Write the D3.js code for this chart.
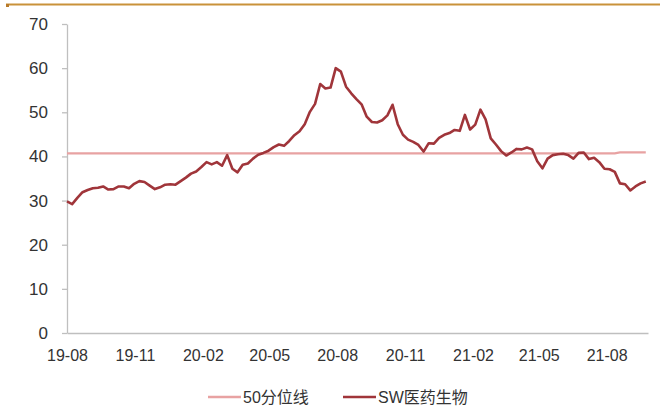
<!DOCTYPE html>
<html><head><meta charset="utf-8">
<script src="https://cdn.jsdelivr.net/npm/d3@7/dist/d3.min.js"></script>
<style>
html,body{margin:0;padding:0;background:#fff;}
svg{display:block;}
text{font-family:"Liberation Sans",Arial,"Noto Sans CJK SC",sans-serif;}
</style></head>
<body>
<svg id="chart" width="660" height="416"></svg>
<script>
// ---- data ----
const startDate = "2019-08-01";           // first weekly observation
const swValues = [
29.8,29.2,30.6,31.9,32.4,32.8,32.9,33.2,32.5,32.6,
33.2,33.2,32.8,33.8,34.4,34.2,33.4,32.6,33.0,33.6,
33.7,33.6,34.4,35.2,36.1,36.6,37.6,38.7,38.2,38.7,
37.9,40.3,37.2,36.4,38.1,38.4,39.5,40.4,40.8,41.3,
42.1,42.7,42.4,43.5,44.8,45.7,47.3,50.1,51.9,56.4,
55.4,55.6,60.0,59.2,55.8,54.3,53.0,51.8,49.0,47.8,
47.7,48.2,49.3,51.7,47.3,44.9,43.8,43.3,42.6,41.1,
43.0,42.9,44.2,44.9,45.3,46.0,45.8,49.4,46.1,47.2,
50.6,48.4,44.1,42.7,41.2,40.2,40.9,41.7,41.6,42.0,
41.6,38.9,37.3,39.5,40.3,40.5,40.6,40.3,39.5,40.8,
40.9,39.4,39.7,38.7,37.2,37.1,36.5,33.9,33.7,32.3,
33.2,33.9,34.3
];
// 50th percentile line: [week index, value]
const medianPoints = [[0,40.7],[106,40.7],[107,40.9],[112,40.9]];
const xTickLabels = ["19-08","19-11","20-02","20-05","20-08","20-11","21-02","21-05","21-08"];
const yTicks = [0,10,20,30,40,50,60,70];
const seriesNames = ["50分位线","SW医药生物"];
const seriesColors = ["#E8A2A2","#A0353A"];

// ---- setup ----
const svg = d3.select("#chart");
const parse = d3.timeParse("%Y-%m-%d");
const parseTick = d3.timeParse("%y-%m");
const t0 = parse(startDate);
const dateAt = i => d3.timeDay.offset(t0, 7 * i);

const x = d3.scaleTime()
  .domain([t0, d3.timeDay.offset(t0, 787)])
  .range([67, 648]);
const y = d3.scaleLinear().domain([0, 70]).range([333, 24]);

// top decorative rule
svg.append("line").attr("x1", 6).attr("x2", 660).attr("y1", 4.5).attr("y2", 4.5)
  .attr("stroke", "#C9923A").attr("stroke-width", 2);
svg.append("rect").attr("x", 6).attr("y", 4).attr("width", 3).attr("height", 3).attr("fill", "#B87A2A");

// y axis
const yAxis = d3.axisLeft(y).tickValues(yTicks).tickSize(5).tickSizeOuter(0).tickPadding(14);
const gy = svg.append("g").attr("transform", "translate(67,0)").call(yAxis);
gy.select(".domain").attr("stroke", "#BFBFBF").attr("stroke-width", 1.3);
gy.selectAll(".tick line").attr("stroke", "#BFBFBF").attr("stroke-width", 1.3);
gy.selectAll(".tick text").attr("fill", "#333").style("font-size", "17px");

// x axis
const xAxis = d3.axisBottom(x)
  .tickValues(xTickLabels.map(s => parseTick(s)))
  .tickFormat(d3.timeFormat("%y-%m"))
  .tickSize(0).tickSizeOuter(0).tickPadding(17);
const gx = svg.append("g").attr("transform", "translate(0,333)").call(xAxis);
gx.select(".domain").attr("stroke", "#BFBFBF").attr("stroke-width", 1.3);
gx.selectAll(".tick text").attr("fill", "#333").style("font-size", "16px");

// lines
const line = d3.line().x(d => x(d[0])).y(d => y(d[1]));
const medData = medianPoints.map(p => [dateAt(p[0]), p[1]]);
const swData = swValues.map((v, i) => [dateAt(i), v]);

svg.append("path").datum(medData).attr("d", line)
  .attr("fill", "none").attr("stroke", seriesColors[0]).attr("stroke-width", 2.2);
svg.append("path").datum(swData).attr("d", line)
  .attr("fill", "none").attr("stroke", seriesColors[1]).attr("stroke-width", 2.6)
  .attr("stroke-linejoin", "round");

// legend
const legendPos = [208, 343];
seriesNames.forEach((name, i) => {
  const g = svg.append("g").attr("transform", `translate(${legendPos[i]},397)`);
  g.append("line").attr("x1", 0).attr("x2", 33).attr("y1", 0).attr("y2", 0)
    .attr("stroke", seriesColors[i]).attr("stroke-width", 2.5);
  g.append("text").attr("x", 35).attr("y", 6).attr("fill", "#333")
    .style("font-size", "16px").text(name);
});
</script>
</body></html>
